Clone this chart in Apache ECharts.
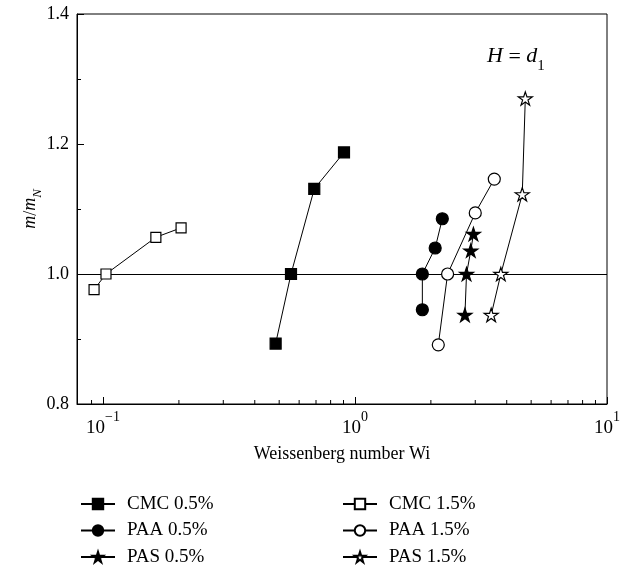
<!DOCTYPE html>
<html>
<head>
<meta charset="utf-8">
<script src="https://cdn.jsdelivr.net/npm/echarts@6/dist/echarts.min.js"></script>
<style>html,body{margin:0;padding:0;background:#fff;}#c{width:629px;height:569px;}</style>
</head>
<body>
<div id="c"></div>
<script>
// ---- data ----
const cmc05W = [0.484, 0.557, 0.689, 0.904];
const cmc05M = [0.893, 1.0, 1.131, 1.187];
const cmc15W = [0.0921, 0.1027, 0.162, 0.204];
const cmc15M = [0.976, 1.0, 1.0565, 1.071];
const paa05W = [1.85, 1.85, 2.08, 2.22];
const paa05M = [0.945, 1.0, 1.040, 1.085];
const paa15W = [2.14, 2.33, 3.00, 3.57];
const paa15M = [0.891, 1.0, 1.094, 1.146];
const pas05W = [2.73, 2.77, 2.88, 2.95];
const pas05M = [0.937, 1.0, 1.036, 1.0615];
const pas15W = [3.47, 3.79, 4.61, 4.74];
const pas15M = [0.937, 1.0, 1.1226, 1.270];
const seriesNames = ['CMC 0.5%', 'PAA 0.5%', 'PAS 0.5%', 'CMC 1.5%', 'PAA 1.5%', 'PAS 1.5%'];
const xMinorTicks = [0.09, 0.2, 0.3, 0.4, 0.5, 0.6, 0.7, 0.8, 0.9, 2, 3, 4, 5, 6, 7, 8, 9];
const yTicks = [0.8, 1.0, 1.2, 1.4];
const refLineValue = 1.0;

const FONT = '"Liberation Serif", "DejaVu Serif", serif';
const STAR = 'path://M50 0 L61.23 34.55 L97.55 34.55 L68.17 55.9 L79.39 90.45 L50 69.1 L20.61 90.45 L31.83 55.9 L2.45 34.55 L38.77 34.55 Z';

function pairs(xs, ys) { return xs.map((x, i) => [x, ys[i]]); }

function mkSeries(name, xs, ys, symbol, size, filled) {
  return {
    name: name, type: 'line', data: pairs(xs, ys),
    symbol: symbol, symbolSize: size, symbolKeepAspect: true, showAllSymbol: true,
    lineStyle: { color: '#000', width: 1 },
    itemStyle: { color: filled ? '#000' : '#fff', borderColor: '#000', borderWidth: 1.2 },
    emphasis: { disabled: true }, silent: true, z: 5
  };
}

const series = [
  mkSeries(seriesNames[0], cmc05W, cmc05M, 'rect', 11, true),
  mkSeries(seriesNames[1], paa05W, paa05M, 'circle', 12, true),
  mkSeries(seriesNames[2], pas05W, pas05M, STAR, 14, true),
  mkSeries(seriesNames[3], cmc15W, cmc15M, 'rect', 10, false),
  mkSeries(seriesNames[4], paa15W, paa15M, 'circle', 12, false),
  mkSeries(seriesNames[5], pas15W, pas15M, STAR, 14, false)
];
series[0].markLine = {
  silent: true, symbol: 'none', label: { show: false },
  lineStyle: { color: '#000', width: 1, type: 'solid' },
  data: [{ yAxis: refLineValue }, [{ coord: [1.21, refLineValue] }, { coord: [10, refLineValue] }]]
};
series.push({
  type: 'custom', silent: true, z: 6, clip: false,
  data: xMinorTicks.map(v => [v, yTicks[0]]),
  renderItem: function (params, api) {
    const p = api.coord([api.value(0), api.value(1)]);
    return { type: 'line', shape: { x1: p[0], y1: p[1], x2: p[0], y2: p[1] - 4 }, style: { stroke: '#000', lineWidth: 1 } };
  }
});

const legendCommon = {
  orient: 'vertical', itemWidth: 34, itemHeight: 13, itemGap: 6.5, padding: 0, height: 90,
  textStyle: { fontFamily: FONT, fontSize: 19, color: '#000', lineHeight: 20, padding: [0, 0, 0, 7] },
  selectedMode: false
};

const option = {
  animation: false,
  backgroundColor: '#fff',
  title: {
    text: '{i|H} = {i|d}{s|1}', left: 482, top: 40,
    textStyle: {
      fontFamily: FONT, fontSize: 22, color: '#000', fontWeight: 'normal',
      rich: {
        i: { fontFamily: FONT, fontSize: 22, fontStyle: 'italic', lineHeight: 24, verticalAlign: 'top' },
        s: { fontFamily: FONT, fontSize: 15, lineHeight: 14, padding: [14, 0, 0, 0], verticalAlign: 'top' }
      }
    }
  },
  grid: { left: 77, right: 22, top: 14, bottom: 165, show: true, borderColor: '#000', borderWidth: 1, backgroundColor: 'transparent' },
  legend: [
    Object.assign({ left: 80, top: 494, data: seriesNames.slice(0, 3) }, legendCommon),
    Object.assign({ left: 342, top: 494, data: seriesNames.slice(3) }, legendCommon)
  ],
  xAxis: {
    type: 'log', logBase: 10, min: 0.0788, max: 10,
    name: 'Weissenberg number Wi', nameLocation: 'middle', nameGap: 41,
    nameTextStyle: { fontFamily: FONT, fontSize: 18, color: '#000' },
    axisLine: { lineStyle: { color: '#000', width: 1 } },
    axisTick: { inside: true, length: 7, lineStyle: { color: '#000' } },
    minorTick: { show: false },
    splitLine: { show: false },
    axisLabel: {
      margin: 6, color: '#000', showMinLabel: true, hideOverlap: false,
      formatter: function (v) {
        const l = Math.log10(v); const e = Math.round(l);
        if (Math.abs(l - e) > 1e-6) return '';
        return '{b|10}{s|' + (e < 0 ? '\u2212' : '') + Math.abs(e) + '}';
      },
      rich: {
        b: { fontFamily: FONT, fontSize: 19, color: '#000', lineHeight: 28, verticalAlign: 'bottom' },
        s: { fontFamily: FONT, fontSize: 14, color: '#000', lineHeight: 14, verticalAlign: 'top' }
      }
    }
  },
  yAxis: {
    type: 'value', min: 0.8, max: 1.4, interval: 0.2,
    name: '{i|m}/{i|m}{sub|N}', nameLocation: 'middle', nameGap: 36, nameMoveOverlap: false,
    nameTextStyle: {
      fontFamily: FONT, fontSize: 18, color: '#000',
      rich: {
        i: { fontFamily: FONT, fontSize: 18, fontStyle: 'italic', lineHeight: 20, verticalAlign: 'top' },
        sub: { fontFamily: FONT, fontSize: 13, fontStyle: 'italic', lineHeight: 13, padding: [10, 0, 0, 0], verticalAlign: 'top' }
      }
    },
    axisLine: { show: true, lineStyle: { color: '#000', width: 1 } },
    axisTick: { inside: true, length: 7, lineStyle: { color: '#000' } },
    minorTick: { show: true, splitNumber: 2, length: 4, lineStyle: { color: '#000' } },
    splitLine: { show: false },
    axisLabel: { margin: 8, color: '#000', fontFamily: FONT, fontSize: 18, formatter: v => v.toFixed(1) }
  },
  series: series
};

const chart = echarts.init(document.getElementById('c'), null, { renderer: 'canvas' });
chart.setOption(option);
</script>
</body>
</html>
